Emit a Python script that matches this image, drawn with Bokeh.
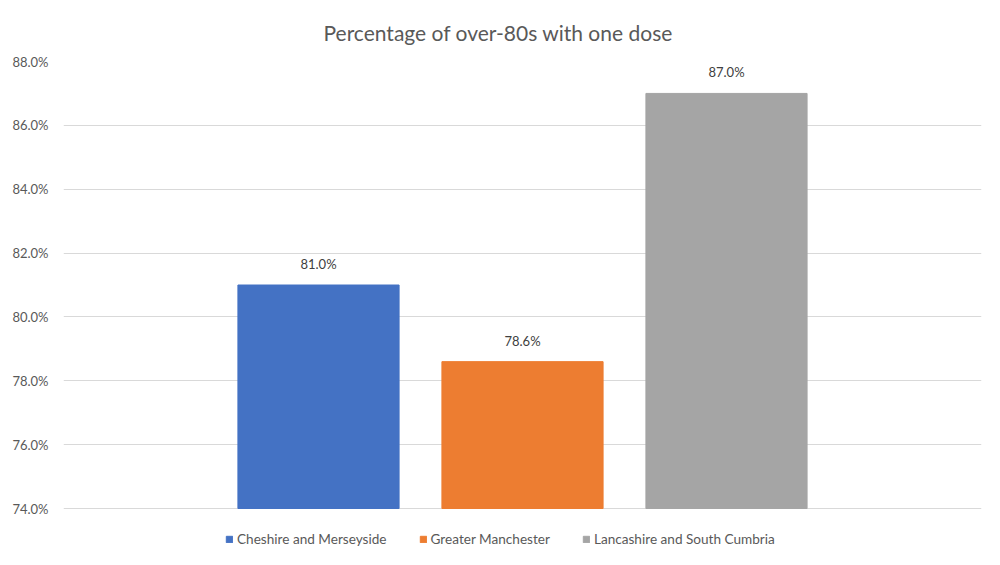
from bokeh.plotting import figure
from bokeh.models import Range1d, Legend, LegendItem, PrintfTickFormatter, ColumnDataSource
from bokeh.embed import file_html
from bokeh.resources import INLINE
from bokeh.core.properties import value

regions = ["Cheshire and Merseyside", "Greater Manchester", "Lancashire and South Cumbria"]
pct = [81.0, 78.6, 87.0]
colors = ["#4472C4", "#ED7D31", "#A5A5A5"]
labels = [f"{v:.1f}%" for v in pct]
y_ticks = [74, 76, 78, 80, 82, 84, 86, 88]
FONT = "Lato"

# frame extends below 74% to hold the legend (no tick/grid below 74)
p = figure(width=992, height=549, output_backend="svg", toolbar_location=None,
           x_range=Range1d(-1.25, 3.25), y_range=Range1d(72.716, 88))
p.min_border_left = 63
p.min_border_right = 11
p.min_border_top = 61
p.min_border_bottom = 0
p.outline_line_color = None
p.background_fill_color = "white"
p.border_fill_color = "white"

p.title.text = "Percentage of over-80s with one dose"
p.title.align = "left"
p.title.vertical_align = "top"
p.title.text_font = FONT
p.title.text_font_size = "21px"
p.title.text_font_style = "normal"
p.title.text_color = "#595959"
p.title.offset = 260
p.title.standoff = 29

src = ColumnDataSource(dict(x=list(range(len(regions))), top=pct, color=colors,
                            label=labels, region=regions))
r = p.vbar(x="x", top="top", bottom=74, width=0.79, color="color", source=src)
p.text(x="x", y="top", text="label", source=src, text_align="center",
       text_baseline="bottom", y_offset=-13, text_font=value(FONT),
       text_font_size="13px", text_color="#404040")

p.xaxis.visible = False
p.xgrid.visible = False
p.ygrid.grid_line_color = "#d9d9d9"
p.ygrid.grid_line_width = 1
p.yaxis.ticker = y_ticks
p.yaxis.formatter = PrintfTickFormatter(format="%.1f%%")
p.yaxis.axis_line_color = None
p.yaxis.major_tick_line_color = None
p.yaxis.minor_tick_line_color = None
p.yaxis.major_tick_out = 0
p.yaxis.major_label_standoff = 15
p.yaxis.major_label_text_font = FONT
p.yaxis.major_label_text_font_size = "13px"
p.yaxis.major_label_text_color = "#595959"

items = [LegendItem(label=regions[i], renderers=[r], index=i) for i in range(len(regions))]
legend = Legend(items=items, orientation="horizontal", location=(162, 2),
                label_text_font=FONT, label_text_font_size="13.6px",
                label_text_color="#595959", glyph_width=8, glyph_height=8,
                spacing=32, border_line_color=None, background_fill_alpha=0,
                padding=0, margin=0, label_standoff=4, label_height=14)
p.add_layout(legend)

open("out.html", "w").write(file_html(p, INLINE))
